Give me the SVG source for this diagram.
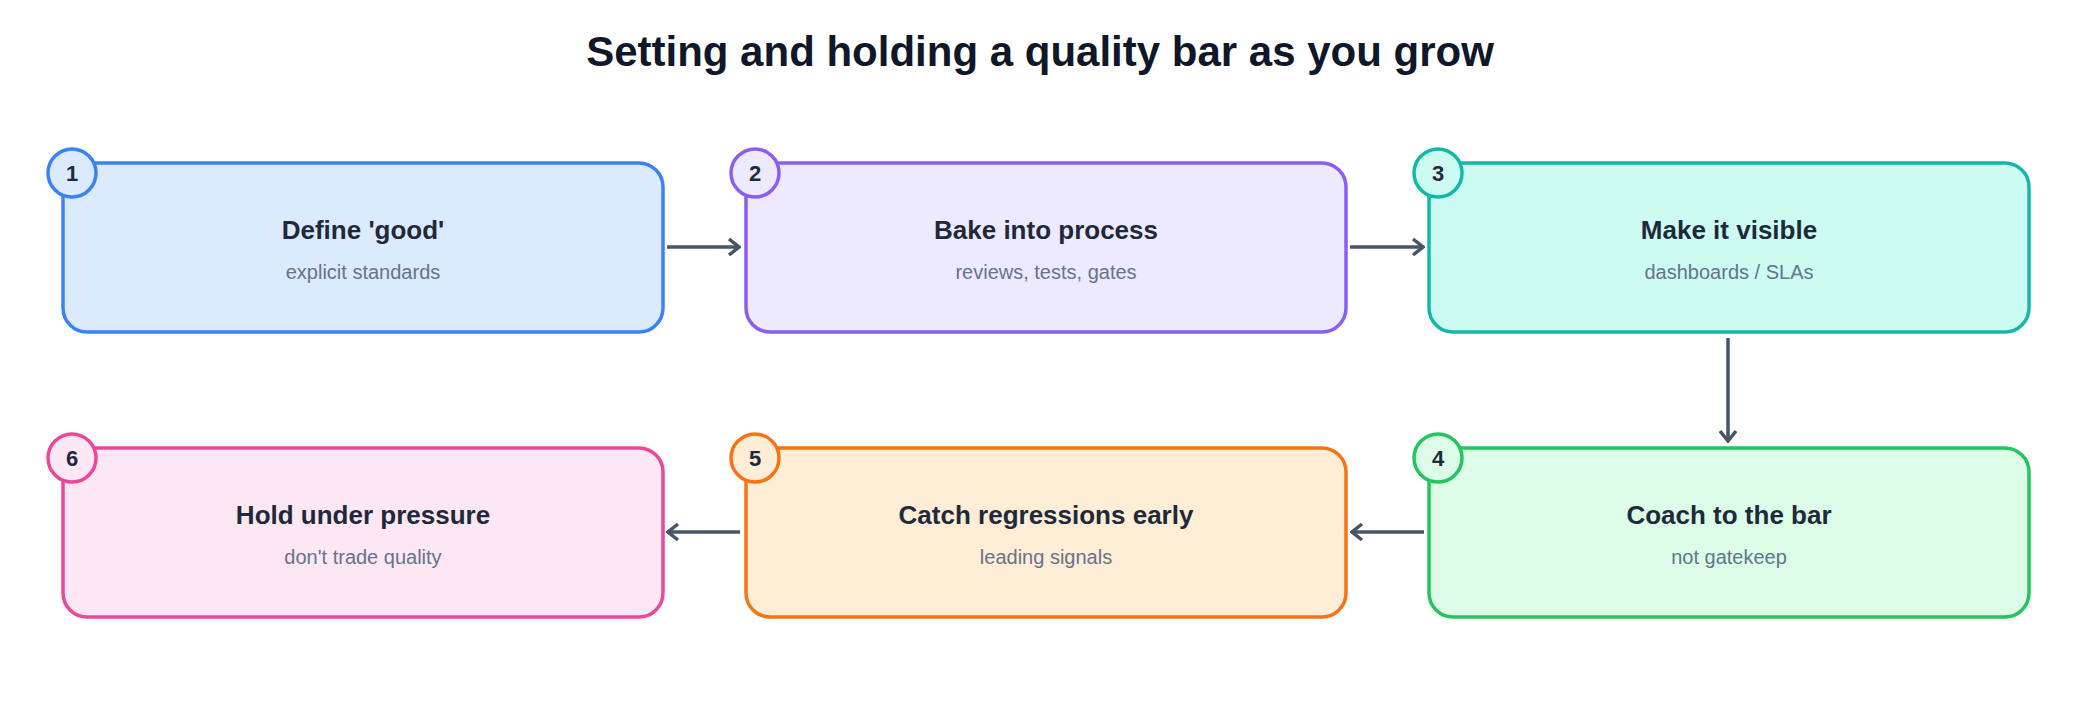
<svg xmlns="http://www.w3.org/2000/svg" width="2080" height="704" viewBox="0 0 2080 704">
<style>
text{font-family:"Liberation Sans",Arial,sans-serif;text-anchor:middle}
.t{font-size:26px;font-weight:bold;fill:#1e293b}
.s{font-size:20px;fill:#64748b}
.n{font-size:22px;font-weight:bold;fill:#1e293b}
.b{stroke-width:3.5}
.c{stroke:#475569;stroke-width:3.5;fill:none}
</style>
<defs><marker id="a" viewBox="0 0 12 12" refX="10" refY="6" markerWidth="6" markerHeight="6" orient="auto" markerUnits="userSpaceOnUse"><path d="M1,1 L10,6 L1,11" fill="none" stroke="#475569" stroke-width="1.8"/></marker>
<marker id="m" viewBox="0 0 20 20" refX="18" refY="10" markerWidth="20" markerHeight="20" orient="auto" markerUnits="userSpaceOnUse"><path d="M8,2 L18,10 L8,18" fill="none" stroke="#475569" stroke-width="3.5"/></marker></defs>
<rect width="2080" height="704" fill="#fff"/>
<text x="1040" y="66" style="font-size:42px;font-weight:bold;fill:#0f172a">Setting and holding a quality bar as you grow</text>
<g id="connectors">
<path class="c" d="M667,247 H739" marker-end="url(#m)"/>
<path class="c" d="M1350,247 H1423" marker-end="url(#m)"/>
<path class="c" d="M1728,338 V441" marker-end="url(#m)"/>
<path class="c" d="M1424,532 H1352" marker-end="url(#m)"/>
<path class="c" d="M740,532 H668" marker-end="url(#m)"/>
</g>
<g id="n1"><rect class="b" x="63" y="163" width="600" height="169" rx="24" fill="#dbeafe" stroke="#3b82f6"/><circle class="b" cx="72" cy="173" r="24" fill="#dbeafe" stroke="#3b82f6"/><text class="n" x="72" y="181">1</text><text class="t" x="363" y="239">Define 'good'</text><text class="s" x="363" y="279">explicit standards</text></g>
<g id="n2"><rect class="b" x="746" y="163" width="600" height="169" rx="24" fill="#ede9fe" stroke="#8b5cf6"/><circle class="b" cx="755" cy="173" r="24" fill="#ede9fe" stroke="#8b5cf6"/><text class="n" x="755" y="181">2</text><text class="t" x="1046" y="239">Bake into process</text><text class="s" x="1046" y="279">reviews, tests, gates</text></g>
<g id="n3"><rect class="b" x="1429" y="163" width="600" height="169" rx="24" fill="#ccfbf1" stroke="#14b8a6"/><circle class="b" cx="1438" cy="173" r="24" fill="#ccfbf1" stroke="#14b8a6"/><text class="n" x="1438" y="181">3</text><text class="t" x="1729" y="239">Make it visible</text><text class="s" x="1729" y="279">dashboards / SLAs</text></g>
<g id="n4"><rect class="b" x="1429" y="448" width="600" height="169" rx="24" fill="#dcfce7" stroke="#22c55e"/><circle class="b" cx="1438" cy="458" r="24" fill="#dcfce7" stroke="#22c55e"/><text class="n" x="1438" y="466">4</text><text class="t" x="1729" y="524">Coach to the bar</text><text class="s" x="1729" y="564">not gatekeep</text></g>
<g id="n5"><rect class="b" x="746" y="448" width="600" height="169" rx="24" fill="#ffedd5" stroke="#f97316"/><circle class="b" cx="755" cy="458" r="24" fill="#ffedd5" stroke="#f97316"/><text class="n" x="755" y="466">5</text><text class="t" x="1046" y="524">Catch regressions early</text><text class="s" x="1046" y="564">leading signals</text></g>
<g id="n6"><rect class="b" x="63" y="448" width="600" height="169" rx="24" fill="#fce7f3" stroke="#ec4899"/><circle class="b" cx="72" cy="458" r="24" fill="#fce7f3" stroke="#ec4899"/><text class="n" x="72" y="466">6</text><text class="t" x="363" y="524">Hold under pressure</text><text class="s" x="363" y="564">don't trade quality</text></g>
</svg>
